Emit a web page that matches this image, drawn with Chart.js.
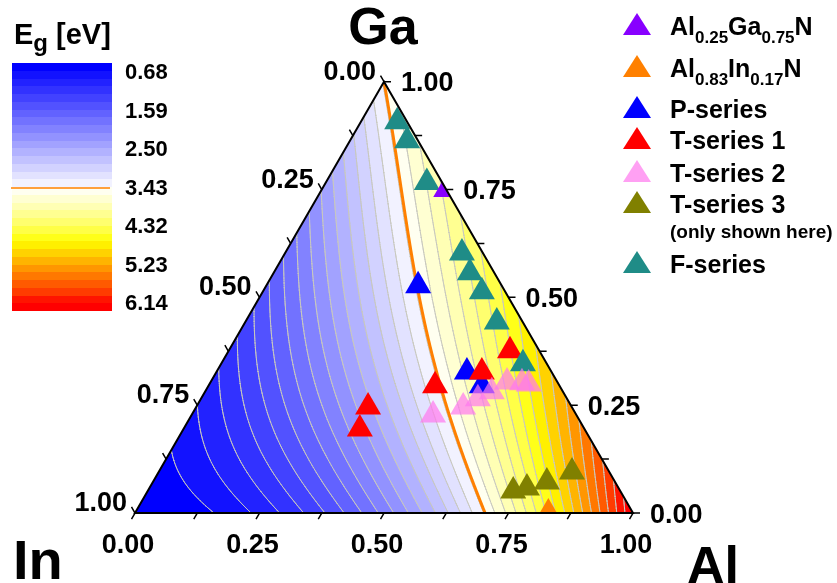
<!DOCTYPE html>
<html>
<head>
<meta charset="utf-8">
<title>AlGaInN band gap</title>
<script src="https://cdn.jsdelivr.net/npm/chart.js@4.4.1/dist/chart.umd.min.js"></script>
<style>
  html, body { margin: 0; padding: 0; background: #fff; }
  #wrap { position: relative; width: 837px; height: 583px; overflow: hidden;
          font-family: "Liberation Sans", Arial, Helvetica, sans-serif; font-weight: bold; }
  #plot { position: absolute; left: 0; top: 0; }
  .lbl { position: absolute; white-space: nowrap; line-height: 1; color: #000; }
  .sb  { position: relative; top: 8px; font-size: 17px; }
  .tri { position: absolute; width: 28px; height: 22px; clip-path: polygon(50% 0, 100% 100%, 0 100%); }
</style>
</head>
<body>
<div id="wrap"><canvas id="plot" width="837" height="583"></canvas></div>
<script>
/* ── Ternary Al-Ga-In nitride map: compositions ──
   Fractions: Al and Ga, In = 1 - Al - Ga                            */
const AlGaN_AL = [0.25];
const AlGaN_GA = [0.75];
const AlInN_AL = [0.83];
const AlInN_GA = [0.00];
const P_AL  = [0.305, 0.503, 0.549];
const P_GA  = [0.527, 0.327, 0.295];
const T1_AL = [0.565, 0.533, 0.455, 0.345, 0.354];
const T1_GA = [0.376, 0.327, 0.295, 0.246, 0.195];
const T2_AL = [0.485, 0.536, 0.556, 0.576, 0.595, 0.626, 0.641];
const T2_GA = [0.227, 0.246, 0.265, 0.281, 0.304, 0.302, 0.299];
const T3_AL = [0.734, 0.758, 0.791, 0.830];
const T3_GA = [0.051, 0.058, 0.072, 0.095];
const F_AL  = [0.073, 0.115, 0.203, 0.355, 0.394, 0.440, 0.505, 0.606];
const F_GA  = [0.907, 0.863, 0.766, 0.603, 0.557, 0.513, 0.443, 0.346];

// band gap model: binaries (eV), bowing (AlGaN one grows with Al), quaternary term
const GAP_IN = 0.68, GAP_GA = 3.43, GAP_AL = 6.14;
const BOW_ALGA = [0.3, 1.6];   // b = b0 + b1 * xAl
const BOW_INGA = 1.85;
const BOW_ALIN = 5.21;
const QUAT_TERM = 7.6;
const GAN_LINE = 3.43;

// colour scale
const CBAR_TICKS = ['0.68', '1.59', '2.50', '3.43', '4.32', '5.23', '6.14'];
const BAND_COLORS = [
  '#0000FF', '#1212FF', '#2222FF', '#3232FF', '#4242FF', '#5252FF', '#6262FF', '#7272FF',
  '#8282FF', '#9292FF', '#A2A2FF', '#B2B2FF', '#C2C2FF', '#D2D2FF', '#E2E2FF', '#F2F2FF',
  '#FFFFF0', '#FFFFD2', '#FFFFB4', '#FFFF91', '#FFFF6E', '#FFFF46', '#FFFF19', '#FFF000',
  '#FFD200', '#FFB400', '#FF9600', '#FF7800', '#FF5A00', '#FF3C00', '#FF1400', '#FF0000'
];

// axis ticks (fractions)
const AXIS_TICKS  = [0, 0.125, 0.25, 0.375, 0.5, 0.625, 0.75, 0.875, 1];
const AXIS_LABELS = [0, 0.25, 0.5, 0.75, 1];

const SQ3 = Math.sqrt(3) / 2;
const GAP_MIN = GAP_IN, GAP_MAX = GAP_AL;
const BAND_STEP = (GAP_MAX - GAP_MIN) / BAND_COLORS.length;
const BAND_RGB = BAND_COLORS.map(h => [1, 3, 5].map(i => parseInt(h.substr(i, 2), 16)));

const SERIES = [
  { label: 'Al0.83In0.17N', al: AlInN_AL, ga: AlInN_GA, color: '#FF8000' },
  { label: 'Al0.25Ga0.75N', al: AlGaN_AL, ga: AlGaN_GA, color: '#8800FF' },
  { label: 'T-series 3',    al: T3_AL,    ga: T3_GA,    color: '#808000' },
  { label: 'T-series 2',    al: T2_AL,    ga: T2_GA,    color: 'rgba(255,120,238,0.7)' },
  { label: 'F-series',      al: F_AL,     ga: F_GA,     color: '#1F8C87' },
  { label: 'T-series 1',    al: T1_AL,    ga: T1_GA,    color: '#FF0000' },
  { label: 'P-series',      al: P_AL,     ga: P_GA,     color: '#0000FF' },
];

// Vegard's law with bowing terms
function bandgap(al, ga, inn) {
  return al * GAP_AL + ga * GAP_GA + inn * GAP_IN
    - (BOW_ALGA[0] + BOW_ALGA[1] * al) * al * ga
    - BOW_INGA * ga * inn - BOW_ALIN * al * inn
    + QUAT_TERM * al * ga * inn;
}
const bandOf = eg => Math.min(BAND_COLORS.length - 1, Math.max(0, Math.floor((eg - GAP_MIN) / BAND_STEP)));

function toPx(chart, al, ga) {
  return { x: chart.scales.x.getPixelForValue(al + ga / 2), y: chart.scales.y.getPixelForValue(ga * SQ3) };
}
function trianglePath(chart) {
  const ctx = chart.ctx, A = toPx(chart, 0, 0), B = toPx(chart, 1, 0), C = toPx(chart, 0, 1);
  ctx.beginPath(); ctx.moveTo(A.x, A.y); ctx.lineTo(B.x, B.y); ctx.lineTo(C.x, C.y); ctx.closePath();
}

let fieldCanvas = null, contourCache = null;

function drawField(chart) {
  const { ctx, chartArea: ca, scales: { x: xs, y: ys } } = chart;
  const x0 = Math.floor(ca.left), y0 = Math.floor(ca.top);
  const w = Math.ceil(ca.right) - x0, h = Math.ceil(ca.bottom) - y0;
  if (!fieldCanvas) {
    fieldCanvas = document.createElement('canvas');
    fieldCanvas.width = w; fieldCanvas.height = h;
    const fc = fieldCanvas.getContext('2d');
    const img = fc.createImageData(w, h);
    for (let py = 0; py < h; py++) {
      const g = Math.min(1, Math.max(0, ys.getValueForPixel(y0 + py + 0.5) / SQ3));
      for (let px = 0; px < w; px++) {
        let a = xs.getValueForPixel(x0 + px + 0.5) - g / 2;
        a = Math.min(1 - g, Math.max(0, a));
        const c = BAND_RGB[bandOf(bandgap(a, g, 1 - a - g))];
        const o = (py * w + px) * 4;
        img.data[o] = c[0]; img.data[o + 1] = c[1]; img.data[o + 2] = c[2]; img.data[o + 3] = 255;
      }
    }
    fc.putImageData(img, 0, 0);
  }
  ctx.save();
  trianglePath(chart); ctx.clip();
  ctx.drawImage(fieldCanvas, x0, y0);
  ctx.restore();
}

function buildContours(chart) {
  const N = 180, idx = (p, q) => p * (N + 1) + q;
  const E = new Float64Array((N + 1) * (N + 1));
  for (let p = 0; p <= N; p++)
    for (let q = 0; q <= N - p; q++) E[idx(p, q)] = bandgap(p / N, q / N, 1 - p / N - q / N);
  const levels = [];
  for (let k = 1; k < BAND_COLORS.length; k++) levels.push(GAP_MIN + k * BAND_STEP);
  const grey = [], gan = [];
  const cross = (P, v, L, list) => {
    const pts = [];
    for (let k = 0; k < 3; k++) {
      const m = (k + 1) % 3, d0 = v[k] - L, d1 = v[m] - L;
      if ((d0 < 0) !== (d1 < 0)) {
        const t = d0 / (d0 - d1);
        const a = (P[k][0] + t * (P[m][0] - P[k][0])) / N, g = (P[k][1] + t * (P[m][1] - P[k][1])) / N;
        pts.push(toPx(chart, a, g));
      }
    }
    if (pts.length === 2) list.push(pts);
  };
  const tri = P => {
    const v = P.map(pt => E[idx(pt[0], pt[1])]);
    const lo = Math.min(v[0], v[1], v[2]), hi = Math.max(v[0], v[1], v[2]);
    levels.forEach(L => { if (L > lo && L < hi) cross(P, v, L, grey); });
    if (GAN_LINE > lo && GAN_LINE < hi) cross(P, v, GAN_LINE, gan);
  };
  for (let p = 0; p < N; p++)
    for (let q = 0; q < N - p; q++) {
      tri([[p, q], [p + 1, q], [p, q + 1]]);
      if (p + q + 2 <= N) tri([[p + 1, q], [p + 1, q + 1], [p, q + 1]]);
    }
  return { grey, gan };
}

function strokeSegs(ctx, segs, color, width) {
  ctx.beginPath();
  segs.forEach(s => { ctx.moveTo(s[0].x, s[0].y); ctx.lineTo(s[1].x, s[1].y); });
  ctx.strokeStyle = color; ctx.lineWidth = width; ctx.lineCap = 'round'; ctx.stroke();
}

function drawContours(chart) {
  if (!contourCache) contourCache = buildContours(chart);
  const ctx = chart.ctx;
  ctx.save();
  trianglePath(chart); ctx.clip();
  strokeSegs(ctx, contourCache.grey, '#C8C8BE', 1);
  strokeSegs(ctx, contourCache.gan, '#FF8000', 3);
  ctx.restore();
}

function drawFrame(chart) {
  const ctx = chart.ctx;
  ctx.save();
  trianglePath(chart);
  ctx.strokeStyle = '#000'; ctx.lineWidth = 2; ctx.lineJoin = 'miter'; ctx.stroke();

  const TL = 7;
  const axes = [
    { at: t => toPx(chart, t, 0),     dir: [-0.5, SQ3],  lab: P => [P.x - 7, P.y + 40, 'center'] },
    { at: t => toPx(chart, 1 - t, t), dir: [1, 0],       lab: P => [P.x + 17, P.y + 9.5, 'left'] },
    { at: t => toPx(chart, 0, 1 - t), dir: [-0.5, -SQ3], lab: P => [P.x - 8, P.y - 2, 'right'] },
  ];
  ctx.lineWidth = 1.5; ctx.strokeStyle = '#000';
  ctx.font = 'bold 27px "Liberation Sans", Arial, sans-serif';
  ctx.fillStyle = '#000';
  axes.forEach(ax => {
    ctx.beginPath();
    AXIS_TICKS.forEach(t => {
      const P = ax.at(t);
      ctx.moveTo(P.x, P.y); ctx.lineTo(P.x + ax.dir[0] * TL, P.y + ax.dir[1] * TL);
    });
    ctx.stroke();
    AXIS_LABELS.forEach(t => {
      const [x, y, align] = ax.lab(ax.at(t));
      ctx.textAlign = align; ctx.textBaseline = 'alphabetic';
      ctx.fillText(t.toFixed(2), x, y);
    });
  });
  ctx.restore();
}

function drawColorbar(chart) {
  const ctx = chart.ctx, x = 12, w = 100, top = 63, bottom = 311;
  const h = (bottom - top) / BAND_COLORS.length;
  ctx.save();
  BAND_COLORS.forEach((c, k) => {
    const y0 = Math.round(top + k * h), y1 = Math.round(top + (k + 1) * h);
    ctx.fillStyle = c; ctx.fillRect(x, y0, w, y1 - y0);
  });
  const yl = top + (GAN_LINE - GAP_MIN) / (GAP_MAX - GAP_MIN) * (bottom - top);
  ctx.strokeStyle = '#FF8000'; ctx.lineWidth = 1.5;
  ctx.beginPath(); ctx.moveTo(x - 1, yl); ctx.lineTo(x + w - 2, yl); ctx.stroke();
  ctx.restore();
}

const ternaryPlugin = {
  id: 'ternary',
  beforeDatasetsDraw(chart) {
    drawField(chart);
    drawContours(chart);
    chart.ctx.save();
    trianglePath(chart);
    chart.ctx.clip();
  },
  afterDatasetsDraw(chart) {
    chart.ctx.restore();
    drawFrame(chart);
    drawColorbar(chart);
  }
};

new Chart(document.getElementById('plot'), {
  type: 'scatter',
  data: {
    datasets: SERIES.map(s => ({
      label: s.label,
      data: s.al.map((a, k) => ({ x: a + s.ga[k] / 2, y: s.ga[k] * SQ3 })),
      backgroundColor: s.color,
      borderColor: s.color,
      clip: false,
    })),
  },
  options: {
    responsive: false,
    animation: false,
    events: [],
    layout: { padding: { left: 135, right: 204, top: 81.7, bottom: 70 } },
    scales: {
      x: { type: 'linear', min: 0, max: 1, display: false },
      y: { type: 'linear', min: 0, max: SQ3, display: false },
    },
    elements: { point: { pointStyle: 'triangle', radius: 15, hoverRadius: 15, borderWidth: 0 } },
    plugins: { legend: { display: false }, tooltip: { enabled: false } },
  },
  plugins: [ternaryPlugin],
});

/* ── text: titles, colour bar labels, legend ── */
const wrap = document.getElementById('wrap');
function label(html, x, base, size, align) {
  const d = document.createElement('div');
  d.className = 'lbl';
  d.style.fontSize = size + 'px';
  d.style.left = x + 'px';
  d.style.top = (base - 0.8465 * size) + 'px';
  if (align === 'center') d.style.transform = 'translateX(-50%)';
  if (align === 'right') d.style.transform = 'translateX(-100%)';
  d.innerHTML = html;
  wrap.appendChild(d);
}
const sub = s => `<span class="sb">${s}</span>`;

label('Ga', 383, 44, 52, 'center');
label('In', 13, 579, 56);
label('Al', 687, 583, 52);
label('E<span class="sb" style="font-size:24px;top:7px">g</span> [eV]', 14, 45, 29);
CBAR_TICKS.forEach((t, k) => label(t, 125, 72 + k * 38.5 + 8, 22));

const LEGEND = [
  { html: `Al${sub('0.25')}Ga${sub('0.75')}N`, color: '#8800FF', base: 35 },
  { html: `Al${sub('0.83')}In${sub('0.17')}N`, color: '#FF8000', base: 77 },
  { html: 'P-series',   color: '#0000FF', base: 118 },
  { html: 'T-series 1', color: '#FF0000', base: 149 },
  { html: 'T-series 2', color: 'rgba(255,120,238,0.7)', base: 182 },
  { html: 'T-series 3', color: '#808000', base: 213 },
  { html: 'F-series',   color: '#1F8C87', base: 273 },
];
LEGEND.forEach(e => {
  const t = document.createElement('div');
  t.className = 'tri';
  t.style.left = '623px';
  t.style.top = (e.base - 22) + 'px';
  t.style.background = e.color;
  wrap.appendChild(t);
  label(e.html, 670, e.base, 25);
});
label('(only shown here)', 670, 238, 19);
</script>
</body>
</html>
